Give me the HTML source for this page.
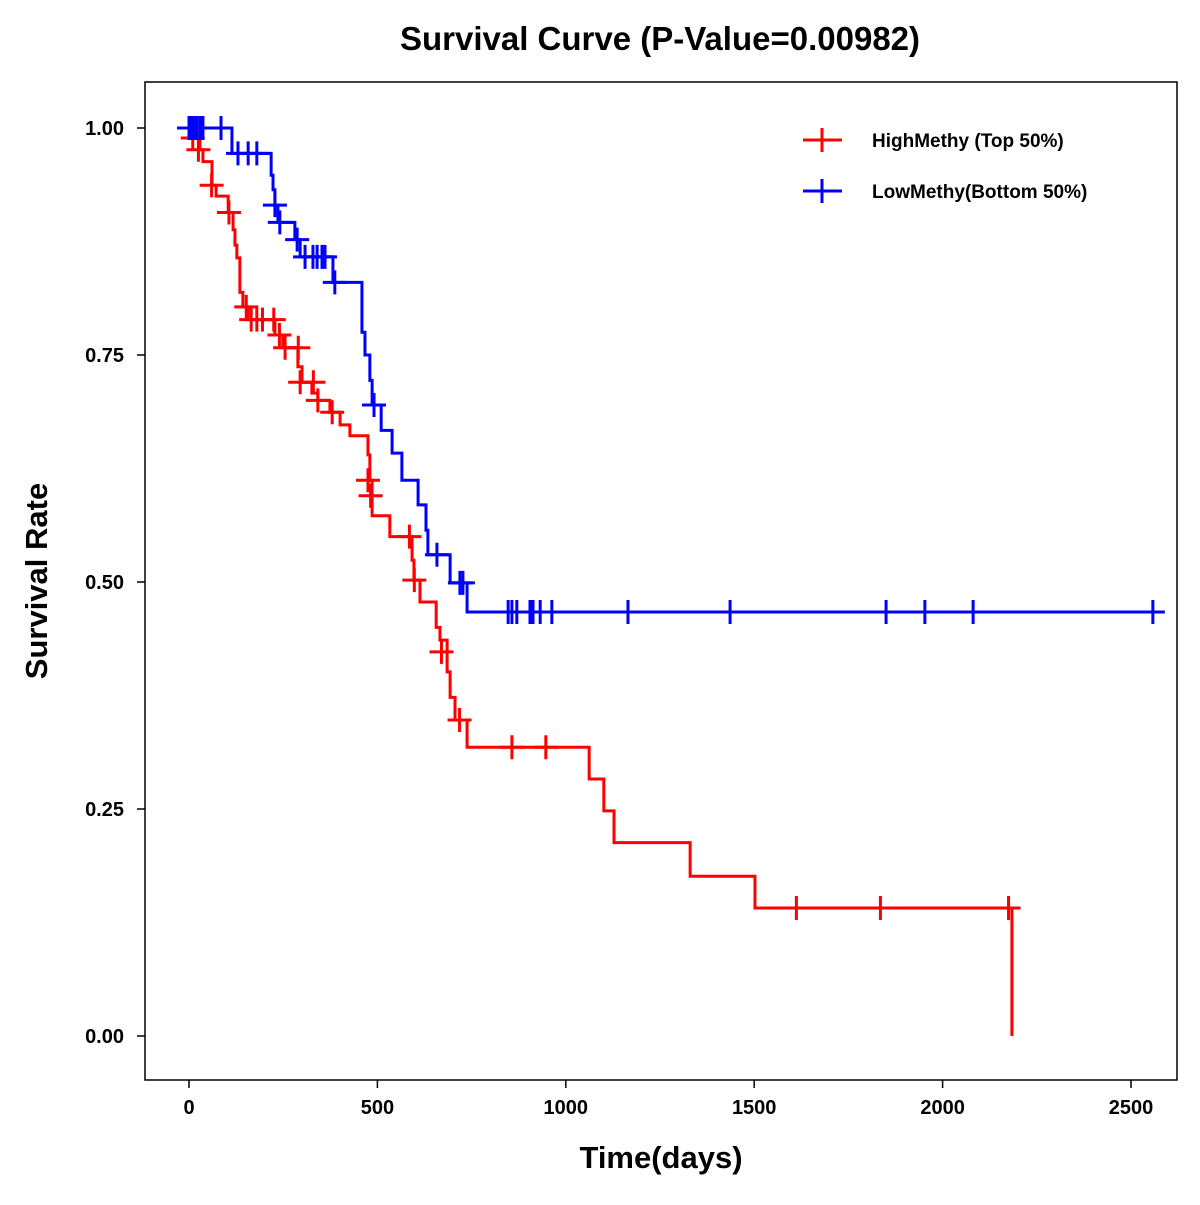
<!DOCTYPE html>
<html><head><meta charset="utf-8"><style>
body{margin:0;background:#fff}
svg text{font-family:"Liberation Sans",Arial,sans-serif;font-weight:bold;fill:#000}
</style></head><body>
<svg id="chart" width="1200" height="1200" xmlns="http://www.w3.org/2000/svg">
<rect x="0" y="0" width="1200" height="1200" fill="#fff"/>
<text x="660" y="50" text-anchor="middle" font-size="33">Survival Curve (P-Value=0.00982)</text>
<rect x="145" y="82" width="1032" height="998" fill="none" stroke="#000" stroke-width="1.5"/>
<g id="xaxis"></g>
<g id="yaxis"></g>
<text x="661" y="1168" text-anchor="middle" font-size="31">Time(days)</text>
<text transform="translate(47,581) rotate(-90)" text-anchor="middle" font-size="31">Survival Rate</text>
<g id="series"></g>
<g>
<g>
<line x1="803" y1="140" x2="842" y2="140" stroke="#f00" stroke-width="3"/>
<line x1="822" y1="128" x2="822" y2="152" stroke="#f00" stroke-width="3"/>
<text x="872" y="147" font-size="19">HighMethy (Top 50%)</text></g>
<g>
<line x1="803" y1="191" x2="842" y2="191" stroke="#00f" stroke-width="3"/>
<line x1="822" y1="179" x2="822" y2="203" stroke="#00f" stroke-width="3"/>
<text x="872" y="198" font-size="19">LowMethy(Bottom 50%)</text></g>
</g>
</svg>
<script>
const xTicks=[0,500,1000,1500,2000,2500];
const yTicks=[0,0.25,0.5,0.75,1.0];
const yTickLabels=["0.00","0.25","0.50","0.75","1.00"];
const highStepTimes=[3,29,37,61,72,104,117,122,127,135,143,157,228,249,289,300,326,342,374,401,427,475,480,486,533,592,597,613,656,666,685,693,706,738,1062,1101,1128,1330,1502,2184];
const highStepSurv=[0.989,0.976,0.963,0.937,0.925,0.907,0.888,0.871,0.857,0.819,0.803,0.789,0.772,0.758,0.737,0.720,0.708,0.700,0.687,0.673,0.661,0.640,0.612,0.573,0.550,0.524,0.502,0.478,0.450,0.436,0.401,0.373,0.348,0.318,0.283,0.248,0.213,0.176,0.141,0.0];
const highCensorTimes=[10,25,60,106,152,165,180,195,225,240,255,290,295,330,342,380,475,482,585,598,670,718,857,947,1612,1835,2175];
const highCensorSurv=[0.989,0.976,0.937,0.907,0.803,0.789,0.789,0.789,0.789,0.772,0.758,0.758,0.720,0.720,0.700,0.687,0.612,0.595,0.550,0.502,0.423,0.348,0.318,0.318,0.141,0.141,0.141];
const highEnd=2184;
const lowStepTimes=[114,218,223,228,236,281,295,382,459,467,480,486,510,539,565,608,629,634,693,738];
const lowStepSurv=[0.972,0.948,0.932,0.915,0.896,0.877,0.858,0.830,0.775,0.750,0.722,0.695,0.667,0.642,0.612,0.585,0.557,0.530,0.499,0.467];
const lowCensorTimes=[0,3,10,15,22,30,37,85,130,157,180,228,241,287,308,329,340,353,361,387,491,658,719,727,847,857,870,905,913,932,963,1165,1436,1850,1953,2081,2558];
const lowCensorSurv=[1,1,1,1,1,1,1,1,0.972,0.972,0.972,0.915,0.896,0.877,0.858,0.858,0.858,0.858,0.858,0.830,0.695,0.530,0.499,0.499,0.467,0.467,0.467,0.467,0.467,0.467,0.467,0.467,0.467,0.467,0.467,0.467,0.467];
const lowEnd=2585;

const NS="http://www.w3.org/2000/svg";
const X=t=>189+t*(1131-189)/2500;
const Y=s=>1036-s*908;
function mk(tag,attrs,parent){const e=document.createElementNS(NS,tag);for(const k in attrs)e.setAttribute(k,attrs[k]);parent.appendChild(e);return e;}
const xa=document.getElementById('xaxis'),ya=document.getElementById('yaxis'),sg=document.getElementById('series');
xTicks.forEach(v=>{
  const l=mk('line',{x1:X(v),x2:X(v),y1:1080,y2:1088,stroke:'#000','stroke-width':1.5},xa);
  
  
  const t=mk('text',{x:X(v),y:1114,'text-anchor':'middle','font-size':20},xa);t.textContent=v;
  
  
});
yTicks.forEach((v,i)=>{
  const l=mk('line',{x1:137,x2:145,y1:Y(v),y2:Y(v),stroke:'#000','stroke-width':1.5},ya);
  
  
  const t=mk('text',{x:124,y:Y(v)+7,'text-anchor':'end','font-size':20},ya);t.textContent=yTickLabels[i];
  
  
});
function drawSeries(times,surv,ct,cs,end,color,name){
  let d=`M${X(0)},${Y(1)}`;
  times.forEach((t,i)=>{d+=` H${X(t)} V${Y(surv[i])}`;});
  if(end>times[times.length-1]) d+=` H${X(end)}`;
  const p=mk('path',{d:d,fill:'none',stroke:color,'stroke-width':3},sg);
  
  
  ct.forEach((t,i)=>{
    const cx=X(t),cy=Y(cs[i]);
    const c=mk('path',{d:`M${cx-12},${cy} H${cx+12} M${cx},${cy-12} V${cy+12}`,stroke:color,'stroke-width':3,fill:'none'},sg);
    
    
  });
}
drawSeries(highStepTimes,highStepSurv,highCensorTimes,highCensorSurv,highEnd,'#f00','high-methy');
drawSeries(lowStepTimes,lowStepSurv,lowCensorTimes,lowCensorSurv,lowEnd,'#00f','low-methy');
</script>
</body></html>
